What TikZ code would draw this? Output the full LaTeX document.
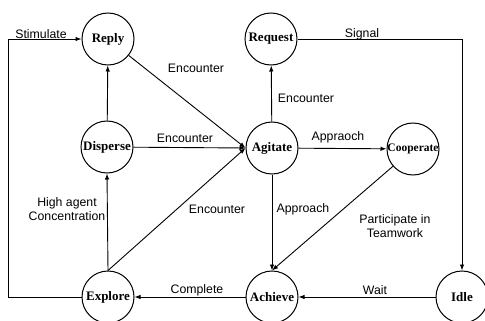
\documentclass[tikz,border=0pt]{standalone}
\usepackage{fontspec}
\setmainfont{Liberation Serif}
\newfontfamily\labfont{Liberation Sans}
\usetikzlibrary{arrows.meta}
\begin{document}
\begin{tikzpicture}[x=1pt,y=-1pt,
  state/.style={circle,draw,line width=1pt,minimum size=52pt,inner sep=0pt,
    font=\bfseries\fontsize{13}{15}\selectfont},
  arr/.style={line width=0.9pt,-{Latex[length=6pt,width=4.5pt]}},
  lbl/.style={font=\labfont\fontsize{12.3}{14.5}\selectfont,inner sep=0pt,align=center}]
\useasboundingbox (0,0) rectangle (485,321);
\node[state] (reply) at (108,39) {Reply};
\node[state] (request) at (271,39) {Request};
\node[state] (disperse) at (107,147) {Disperse};
\node[state] (agitate) at (272,148) {Agitate};
\node[state,font=\bfseries\fontsize{11.5}{13}\selectfont] (cooperate) at (413,149) {Cooperate};
\node[state] (explore) at (108,297) {Explore};
\node[state] (achieve) at (272,297) {Achieve};
\node[state] (idle) at (462,297) {Idle};
\coordinate (lb) at (8,297);
\coordinate (lt) at (8,39);
\coordinate (rt) at (462,39);
% connectors
\draw[arr] (explore.west) -- (lb) -- (lt) -- (reply.west)
  node[lbl,at={(41,34)}] {Stimulate};
\draw[arr] (request.east) -- (rt) -- (idle.north)
  node[lbl,at={(362,34)}] {Signal};
\draw[arr] (reply) -- (agitate.west)
  node[lbl,at={(196,68)}] {Encounter};
\draw[arr] (disperse) -- (agitate.west)
  node[lbl,at={(185,138)}] {Encounter};
\draw[arr] (explore.north) -- (agitate.west)
  node[lbl,at={(217,209)}] {Encounter};
\draw[arr] (disperse) -- (reply);
\draw[arr] (explore.north) -- (disperse.south)
  node[lbl,at={(67,209)}] {High agent\\Concentration};
\draw[arr] (agitate) -- (request)
  node[lbl,at={(306,98)}] {Encounter};
\draw[arr] (agitate) -- (cooperate)
  node[lbl,at={(338,137)}] {Appraoch};
\draw[arr] (agitate) -- (achieve)
  node[lbl,at={(303,209)}] {Approach};
\draw[arr] (cooperate) -- (achieve.north)
  node[lbl,at={(395,226)}] {Participate in\\Teamwork};
\draw[arr] (idle) -- (achieve)
  node[lbl,at={(375,290)}] {Wait};
\draw[arr] (achieve) -- (explore)
  node[lbl,at={(197,290)}] {Complete};
\end{tikzpicture}
\end{document}
